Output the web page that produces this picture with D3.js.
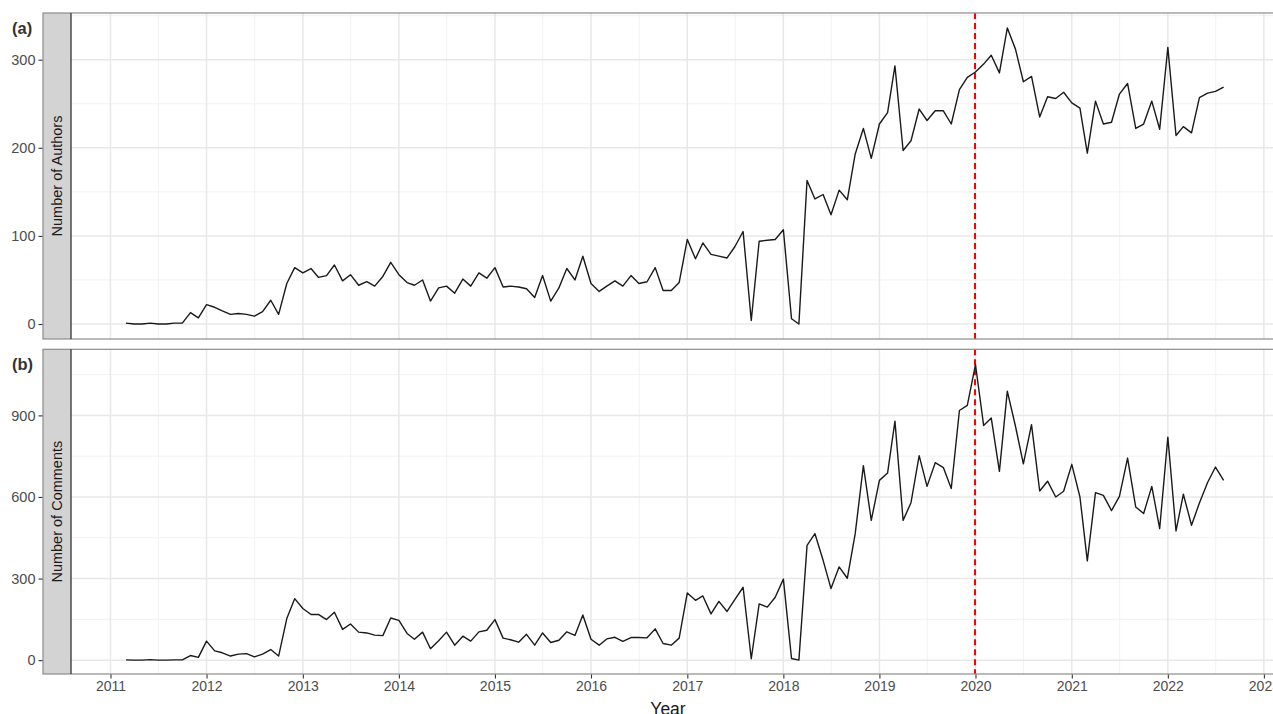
<!DOCTYPE html>
<html>
<head>
<meta charset="utf-8">
<script src="https://cdn.jsdelivr.net/npm/d3@7"></script>
<style>
  body { margin: 0; background: #fff; }
  svg { display: block; font-family: "Liberation Sans", Arial, sans-serif; }
</style>
</head>
<body>
<div id="chart"></div>
<script>
var w = 1273;
var h = 714;

// monthly counts, Mar 2011 .. Aug 2022
var firstMonth = new Date(2011, 2, 1);
var lastMonth = new Date(2022, 7, 1);

var authors = [
    1, 0, 0, 1, 0, 0, 1, 1,
    13, 7, 22, 19, 15, 11, 12, 11, 9, 14, 27, 11,
    46, 64, 58, 63, 53, 55, 67, 49, 56, 44, 48, 43, 54, 70, 56, 47, 44, 50, 26, 41, 43, 35, 51, 43, 58, 52, 64,
    42, 43, 42, 40, 30, 55, 26, 41, 63, 50, 77, 46, 37, 43, 49, 43, 55, 46, 48, 64, 38, 38, 47,
    96, 74, 92, 79, 77, 75, 88, 105, 4, 94, 95, 96, 107, 6, 0,
    163, 142, 147, 124, 152, 141, 193, 222, 188, 227, 240, 293, 197, 208, 244, 231, 242, 242, 227, 266,
    280, 286, 295, 305, 285, 336, 312, 275, 281, 235, 258, 256, 263, 251, 245, 194, 253, 227, 229, 261,
    273, 222, 227, 253, 221, 314, 214, 224, 217, 257, 262, 264, 269
];

var comments = [
    1, 0, 0, 2, 0, 0, 1, 1,
    17, 10, 70, 34, 27, 15, 22, 24, 12, 22, 39, 15,
    153, 226, 190, 168, 168, 149, 176, 113, 133, 103, 100, 92, 90, 155, 146, 98, 77, 103, 42, 71, 103, 55, 88, 70, 104, 110, 149,
    81, 75, 66, 95, 55, 100, 65, 73, 104, 91, 166, 77, 55, 78, 84, 69, 83, 83, 82, 115, 61, 55, 81,
    247, 220, 236, 170, 216, 179, 223, 268, 5, 207, 195, 231, 298, 6, 0,
    422, 465, 367, 263, 343, 301, 465, 715, 514, 661, 688, 879, 514, 579, 752, 639, 726, 708, 631, 918,
    937, 1087, 863, 890, 694, 989, 860, 722, 866, 622, 658, 600, 621, 720, 600, 365, 616, 606, 550, 602,
    743, 563, 539, 639, 484, 820, 475, 610, 496, 578, 653, 710, 661
];

var yearTicks = [2011, 2012, 2013, 2014, 2015, 2016, 2017, 2018, 2019, 2020, 2021, 2022, 2023];
var authorTicks = [0, 100, 200, 300];
var authorMinor = [50, 150, 250, 350];
var commentTicks = [0, 300, 600, 900];
var commentMinor = [150, 450, 750, 1050];
var cutoff = new Date(2020, 0, 1);

var months = d3.timeMonth.range(firstMonth, d3.timeMonth.offset(lastMonth, 1));

var panels = [
    { tag: "(a)", title: "Number of Authors", values: authors, ticks: authorTicks, minor: authorMinor,
      domain: [-17, 353], top: 13, bottom: 339 },
    { tag: "(b)", title: "Number of Comments", values: comments, ticks: commentTicks, minor: commentMinor,
      domain: [-51, 1143], top: 349.3, bottom: 674 }
];

var stripLeft = 43, plotLeft = 71, plotRight = 1286;

var x = d3.scaleTime()
    .domain([new Date(2010, 7, 4), new Date(2023, 2, 26)])
    .range([plotLeft, plotRight]);

var svg = d3.select("#chart")
    .append("svg")
    .attr("width", w)
    .attr("height", h);

panels.forEach(function(p, k) {
    var y = d3.scaleLinear()
        .domain(p.domain)
        .range([p.bottom, p.top]);

    var g = svg.append("g");

    // minor grid
    g.selectAll(".xminor")
        .data(yearTicks.slice(0, -1))
        .enter()
        .append("line")
        .attr("x1", function(d) { return x(new Date(d, 6, 2)); })
        .attr("x2", function(d) { return x(new Date(d, 6, 2)); })
        .attr("y1", p.top)
        .attr("y2", p.bottom)
        .style("stroke", "#f2f2f2")
        .style("stroke-width", 1);

    g.selectAll(".yminor")
        .data(p.minor)
        .enter()
        .append("line")
        .attr("x1", plotLeft)
        .attr("x2", plotRight)
        .attr("y1", function(d) { return y(d); })
        .attr("y2", function(d) { return y(d); })
        .style("stroke", "#f2f2f2")
        .style("stroke-width", 1);

    // major grid
    g.selectAll(".xmajor")
        .data(yearTicks)
        .enter()
        .append("line")
        .attr("x1", function(d) { return x(new Date(d, 0, 1)); })
        .attr("x2", function(d) { return x(new Date(d, 0, 1)); })
        .attr("y1", p.top)
        .attr("y2", p.bottom)
        .style("stroke", "#e8e8e8")
        .style("stroke-width", 1.5);

    g.selectAll(".ymajor")
        .data(p.ticks)
        .enter()
        .append("line")
        .attr("x1", plotLeft)
        .attr("x2", plotRight)
        .attr("y1", function(d) { return y(d); })
        .attr("y2", function(d) { return y(d); })
        .style("stroke", "#e8e8e8")
        .style("stroke-width", 1.5);

    // red dashed line at 2020
    var cx = Math.round(x(cutoff));
    g.append("line")
        .attr("x1", cx)
        .attr("x2", cx)
        .attr("y1", p.top)
        .attr("y2", p.bottom)
        .style("stroke", "#ff0000")
        .style("stroke-width", 2)
        .style("stroke-dasharray", "6,4");

    // series
    var line = d3.line()
        .x(function(d, i) { return x(months[i]); })
        .y(function(d) { return y(d); });

    g.append("path")
        .datum(p.values)
        .attr("d", line)
        .style("fill", "none")
        .style("stroke", "#1a1a1a")
        .style("stroke-width", 1.4)
        .style("stroke-linejoin", "round");

    // strip on the left
    g.append("rect")
        .attr("x", stripLeft)
        .attr("y", p.top)
        .attr("width", plotLeft - stripLeft)
        .attr("height", p.bottom - p.top)
        .style("fill", "#d3d3d3");

    // panel border
    g.append("rect")
        .attr("x", stripLeft)
        .attr("y", p.top)
        .attr("width", plotRight - stripLeft)
        .attr("height", p.bottom - p.top)
        .style("fill", "none")
        .style("stroke", "#8c8c8c")
        .style("stroke-width", 1.2);

    g.append("line")
        .attr("x1", plotLeft)
        .attr("x2", plotLeft)
        .attr("y1", p.top)
        .attr("y2", p.bottom)
        .style("stroke", "#333")
        .style("stroke-width", 1.3);

    g.append("text")
        .attr("transform", "translate(" + ((stripLeft + plotLeft) / 2 + 5) + "," + ((p.top + p.bottom) / 2) + ") rotate(-90)")
        .attr("text-anchor", "middle")
        .style("font-size", "14.5px")
        .style("fill", "#1a1a1a")
        .text(p.title);

    // y axis, left of the strip
    var yAxis = d3.axisLeft(y)
        .tickValues(p.ticks)
        .tickSize(4)
        .tickPadding(3);

    var ya = g.append("g")
        .attr("transform", "translate(" + (stripLeft - 0.5) + ",0)")
        .call(yAxis);
    ya.select(".domain").remove();
    ya.selectAll("line").style("stroke", "#333").style("stroke-width", 1.1);
    ya.selectAll("text")
        .style("font-family", "Liberation Sans, Arial, sans-serif")
        .style("font-size", "14.5px")
        .style("fill", "#4d4d4d");

    g.append("text")
        .attr("x", 12)
        .attr("y", p.top + 21)
        .style("font-size", "16.5px")
        .style("font-weight", "bold")
        .style("fill", "#333")
        .text(p.tag);

    // x axis under the last panel
    if (k === panels.length - 1) {
        var xAxis = d3.axisBottom(x)
            .tickValues(yearTicks.map(function(d) { return new Date(d, 0, 1); }))
            .tickFormat(d3.timeFormat("%Y"))
            .tickSize(4)
            .tickPadding(3);

        var xa = g.append("g")
            .attr("transform", "translate(0," + (p.bottom + 0.5) + ")")
            .call(xAxis);
        xa.select(".domain").remove();
        xa.selectAll("line").style("stroke", "#333").style("stroke-width", 1.1);
        xa.selectAll("text")
            .style("font-family", "Liberation Sans, Arial, sans-serif")
            .style("font-size", "14px")
            .style("fill", "#4d4d4d");

        svg.append("text")
            .attr("x", 668)
            .attr("y", 714.5)
            .attr("text-anchor", "middle")
            .style("font-size", "17.5px")
            .style("fill", "#1a1a1a")
            .text("Year");
    }
});
</script>
</body>
</html>
